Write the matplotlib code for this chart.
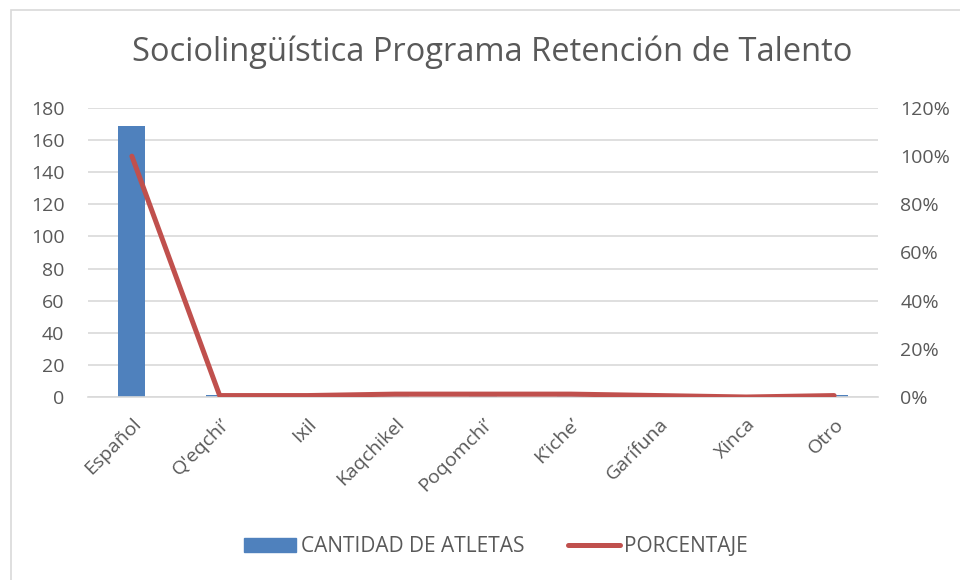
import matplotlib
matplotlib.use("Agg")
import matplotlib.pyplot as plt
from matplotlib.patches import Rectangle
from matplotlib.lines import Line2D
from matplotlib.ticker import FuncFormatter, MultipleLocator

categories = ["Español", "Q'eqchi’", "Ixil", "Kaqchikel", "Poqomchi’", "K’iche’", "Garífuna", "Xinca", "Otro"]
cantidad = [169, 1, 1, 2, 2, 2, 1, 0, 1]
porcentaje = [1.00, 0.006, 0.006, 0.012, 0.012, 0.012, 0.006, 0.0, 0.006]

title = "Sociolingüística Programa Retención de Talento"
bar_label = "CANTIDAD DE ATLETAS"
line_label = "PORCENTAJE"

blue = "#4F81BD"
red = "#C0504D"
txt = "#595959"
grid = "#D9D9D9"

plt.rcParams['font.family'] = ['Open Sans', 'DejaVu Sans']

W, H = 960, 580
fig = plt.figure(figsize=(W / 100, H / 100), dpi=100)
fig.patch.set_facecolor("white")

# chart border (left/top visible)
fig.add_artist(Rectangle((11 / W, -0.05), 1.2, (H - 10) / H + 0.05, transform=fig.transFigure,
                         fill=False, edgecolor="#D9D9D9", linewidth=1.2))

left, right, top, bottom = 88, 878, 108, 397
ax = fig.add_axes([left / W, 1 - bottom / H, (right - left) / W, (bottom - top) / H])
ax2 = ax.twinx()

x = list(range(len(categories)))
ax.bar(x, cantidad, width=0.31, color=blue, zorder=2)
ax.set_xlim(-0.5, len(categories) - 0.5)
ax.set_ylim(0, 180)
ax.yaxis.set_major_locator(MultipleLocator(20))
ax.grid(axis="y", color=grid, linewidth=1.2, zorder=0)
ax.set_axisbelow(True)

ax2.plot(x, porcentaje, color=red, linewidth=3.6, solid_capstyle="round", zorder=3)
ax2.set_ylim(0, 1.2)
ax2.yaxis.set_major_locator(MultipleLocator(0.2))
ax2.yaxis.set_major_formatter(FuncFormatter(lambda v, p: f"{v*100:.0f}%"))

for a in (ax, ax2):
    for s in a.spines.values():
        s.set_visible(False)
    a.tick_params(length=0, labelsize=14, colors=txt)
ax.spines["bottom"].set_visible(True)
ax.spines["bottom"].set_color(grid)
ax.spines["bottom"].set_linewidth(1.2)
ax.tick_params(axis="y", pad=17)
ax2.tick_params(axis="y", pad=16)

ax.set_xticks(x)
ax.set_xticklabels(categories, rotation=45, ha="right", va="top", rotation_mode="anchor",
                   fontsize=14, color=txt)
ax.tick_params(axis="x", pad=13)

fig.text(492 / W, 1 - 52 / H, title, ha="center", va="center", fontsize=23.5, color=txt)

handles = [Rectangle((0, 0), 1, 1, color=blue),
           Line2D([0], [0], color=red, linewidth=3.6, solid_capstyle="round")]
fig.legend(handles, [bar_label, line_label], loc="center", bbox_to_anchor=(496 / W, 1 - 547 / H),
           ncol=2, frameon=False, fontsize=15, labelcolor=txt, handlelength=2.5, handletextpad=0.2,
           columnspacing=2.1, handleheight=0.65)

fig.savefig("out.png", dpi=100)
